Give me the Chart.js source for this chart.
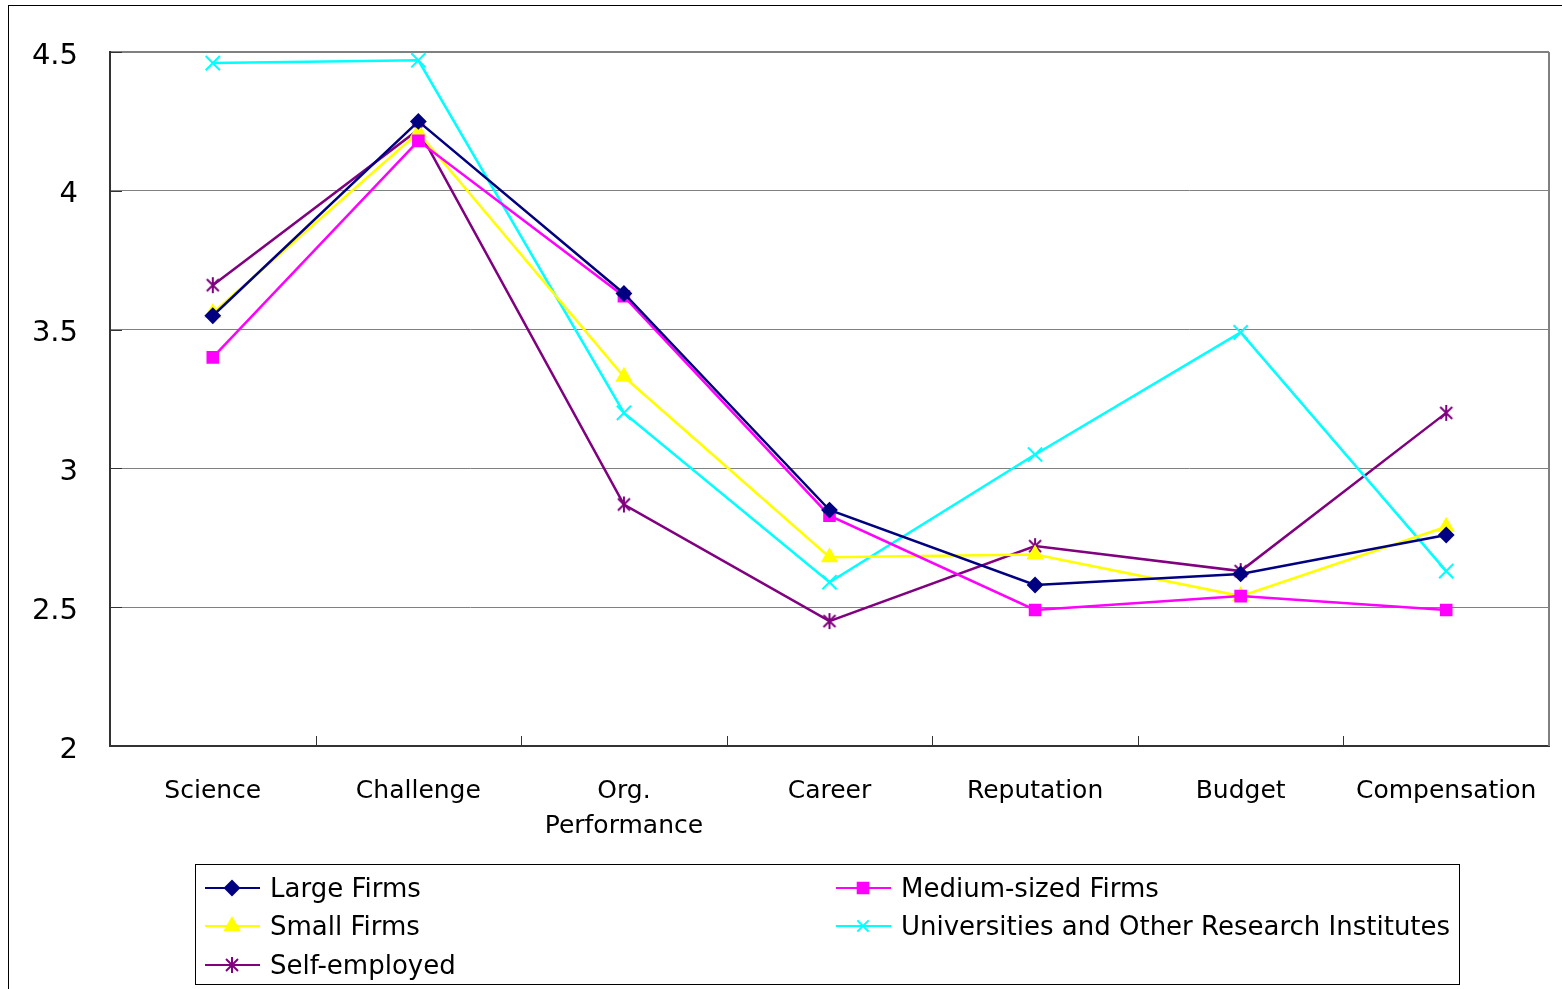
<!DOCTYPE html>
<html>
<head>
<meta charset="utf-8">
<title>Motivation by organisation type</title>
<script src="https://cdn.jsdelivr.net/npm/chart.js@4.4.1/dist/chart.umd.min.js"></script>
<style>
    html, body { margin: 0; padding: 0; background: #fff; }
    #lineChart { display: block; }
</style>
</head>
<body>
<canvas id="lineChart" width="1562" height="989"></canvas>
<script>
// categories and tick labels
const CATEGORIES = ['Science', 'Challenge', ['Org.', 'Performance'], 'Career', 'Reputation', 'Budget', 'Compensation'];
const Y_TICKS = [2, 2.5, 3, 3.5, 4, 4.5];

// series values
const LARGE_FIRMS = [3.55, 4.25, 3.63, 2.85, 2.58, 2.62, 2.76];
const MEDIUM_FIRMS = [3.40, 4.18, 3.62, 2.83, 2.49, 2.54, 2.49];
const SMALL_FIRMS = [3.56, 4.21, 3.33, 2.68, 2.69, 2.54, 2.79];
const UNIVERSITIES = [4.46, 4.47, 3.20, 2.59, 3.05, 3.49, 2.63];
const SELF_EMPLOYED = [3.66, 4.22, 2.87, 2.45, 2.72, 2.63, 3.20];

const FONT = 'DejaVu Sans';

// asterisk marker (vertical bar + X), the library has no such style
function makeAsterisk(color) {
    const c = document.createElement('canvas');
    c.width = 20;
    c.height = 20;
    const g = c.getContext('2d');
    g.strokeStyle = color;
    g.lineWidth = 2;
    g.beginPath();
    g.moveTo(10, 2); g.lineTo(10, 18);
    g.moveTo(4, 4); g.lineTo(16, 16);
    g.moveTo(16, 4); g.lineTo(4, 16);
    g.stroke();
    return c;
}

function series(label, data, color, style, radius) {
    return {
        label: label,
        data: data,
        borderColor: color,
        backgroundColor: color,
        pointBackgroundColor: color,
        pointBorderColor: color,
        pointStyle: style,
        pointRadius: radius,
        pointBorderWidth: 2,
        borderWidth: 2.5,
        tension: 0
    };
}

/**
 * axis extras: inside tick marks, grey right border, outer frame
 */
const framePlugin = {
    id: 'frame',
    afterDraw(chart) {
        const ctx = chart.ctx;
        const area = chart.chartArea;
        const xs = chart.scales.x;
        const ys = chart.scales.y;
        ctx.save();

        // right border of plot
        ctx.strokeStyle = '#808080';
        ctx.lineWidth = 2;
        ctx.beginPath();
        ctx.moveTo(area.right, area.top);
        ctx.lineTo(area.right, area.bottom);
        ctx.stroke();

        // tick marks pointing into the plot
        ctx.strokeStyle = '#333';
        ctx.lineWidth = 1;
        ctx.beginPath();
        for (let i = 1; i < CATEGORIES.length; i++) {
            const x = Math.round(xs.getPixelForValue(i - 0.5)) + 0.5;
            ctx.moveTo(x, area.bottom);
            ctx.lineTo(x, area.bottom - 10);
        }
        Y_TICKS.forEach(v => {
            const y = Math.round(ys.getPixelForValue(v)) + 0.5;
            ctx.moveTo(area.left, y);
            ctx.lineTo(area.left + 12, y);
        });
        ctx.stroke();

        // outer chart frame
        ctx.strokeStyle = '#000';
        ctx.lineWidth = 1;
        ctx.strokeRect(8.5, 5.5, 1600, 1000);
        ctx.restore();
    }
};

/**
 * legend box in two columns, drawn from the datasets
 */
const legendPlugin = {
    id: 'gridLegend',
    afterDraw(chart) {
        const ctx = chart.ctx;
        const cols = [205, 836];
        const rows = [888, 926, 965];
        ctx.save();
        ctx.strokeStyle = '#000';
        ctx.lineWidth = 1;
        ctx.strokeRect(195.5, 864.5, 1264, 120);

        chart.data.datasets.forEach((ds, i) => {
            const x = cols[i % 2];
            const y = rows[Math.floor(i / 2)];
            ctx.strokeStyle = ds.borderColor;
            ctx.fillStyle = ds.borderColor;
            ctx.lineWidth = 2;
            ctx.beginPath();
            ctx.moveTo(x, y);
            ctx.lineTo(x + 55, y);
            ctx.stroke();
            Chart.helpers.drawPoint(ctx, {
                pointStyle: ds.pointStyle,
                radius: Math.min(ds.pointRadius, 8),
                rotation: 0,
                borderWidth: 2
            }, x + 27, y);

            ctx.fillStyle = '#000';
            ctx.font = '26px "' + FONT + '"';
            ctx.textAlign = 'left';
            ctx.textBaseline = 'middle';
            ctx.fillText(ds.label, x + 65, y + 2);
        });
        ctx.restore();
    }
};

const config = {
    type: 'line',
    data: {
        labels: CATEGORIES,
        datasets: [
            series('Large Firms', LARGE_FIRMS, '#000080', 'rectRot', 7),
            series('Medium-sized Firms', MEDIUM_FIRMS, '#FF00FF', 'rect', 7.5),
            series('Small Firms', SMALL_FIRMS, '#FFFF00', 'triangle', 8),
            series('Universities and Other Research Institutes', UNIVERSITIES, '#00FFFF', 'crossRot', 10),
            series('Self-employed', SELF_EMPLOYED, '#800080', makeAsterisk('#800080'), 9)
        ]
    },
    options: {
        responsive: false,
        devicePixelRatio: 1,
        animation: false,
        layout: {
            padding: { top: 52, right: 13, bottom: 0, left: 0 }
        },
        plugins: {
            legend: { display: false },
            tooltip: { enabled: false }
        },
        scales: {
            x: {
                offset: true,
                grid: { display: false, drawTicks: false },
                border: { display: true, color: '#333', width: 2 },
                ticks: {
                    color: '#000',
                    font: { family: FONT, size: 25, lineHeight: 1.4 },
                    padding: 28,
                    maxRotation: 0,
                    autoSkip: false
                },
                afterFit(scale) {
                    scale.height = 243;
                    scale.paddingLeft = 0;
                    scale.paddingRight = 0;
                }
            },
            y: {
                min: 2,
                max: 4.5,
                afterBuildTicks(scale) {
                    scale.ticks = Y_TICKS.map(v => ({ value: v }));
                },
                grid: {
                    color: '#808080',
                    lineWidth: ctx => (ctx.tick && ctx.tick.value === 4.5 ? 2 : 1),
                    drawTicks: false
                },
                border: { display: true, color: '#333', width: 2 },
                ticks: {
                    color: '#000',
                    font: { family: FONT, size: 29 },
                    padding: 32,
                    labelOffset: 4,
                    callback: v => String(v)
                },
                afterFit(scale) {
                    scale.width = 110;
                    scale.paddingTop = 0;
                    scale.paddingBottom = 0;
                }
            }
        }
    },
    plugins: [framePlugin, legendPlugin]
};

const lineChart = new Chart(document.getElementById('lineChart'), config);
</script>
</body>
</html>
